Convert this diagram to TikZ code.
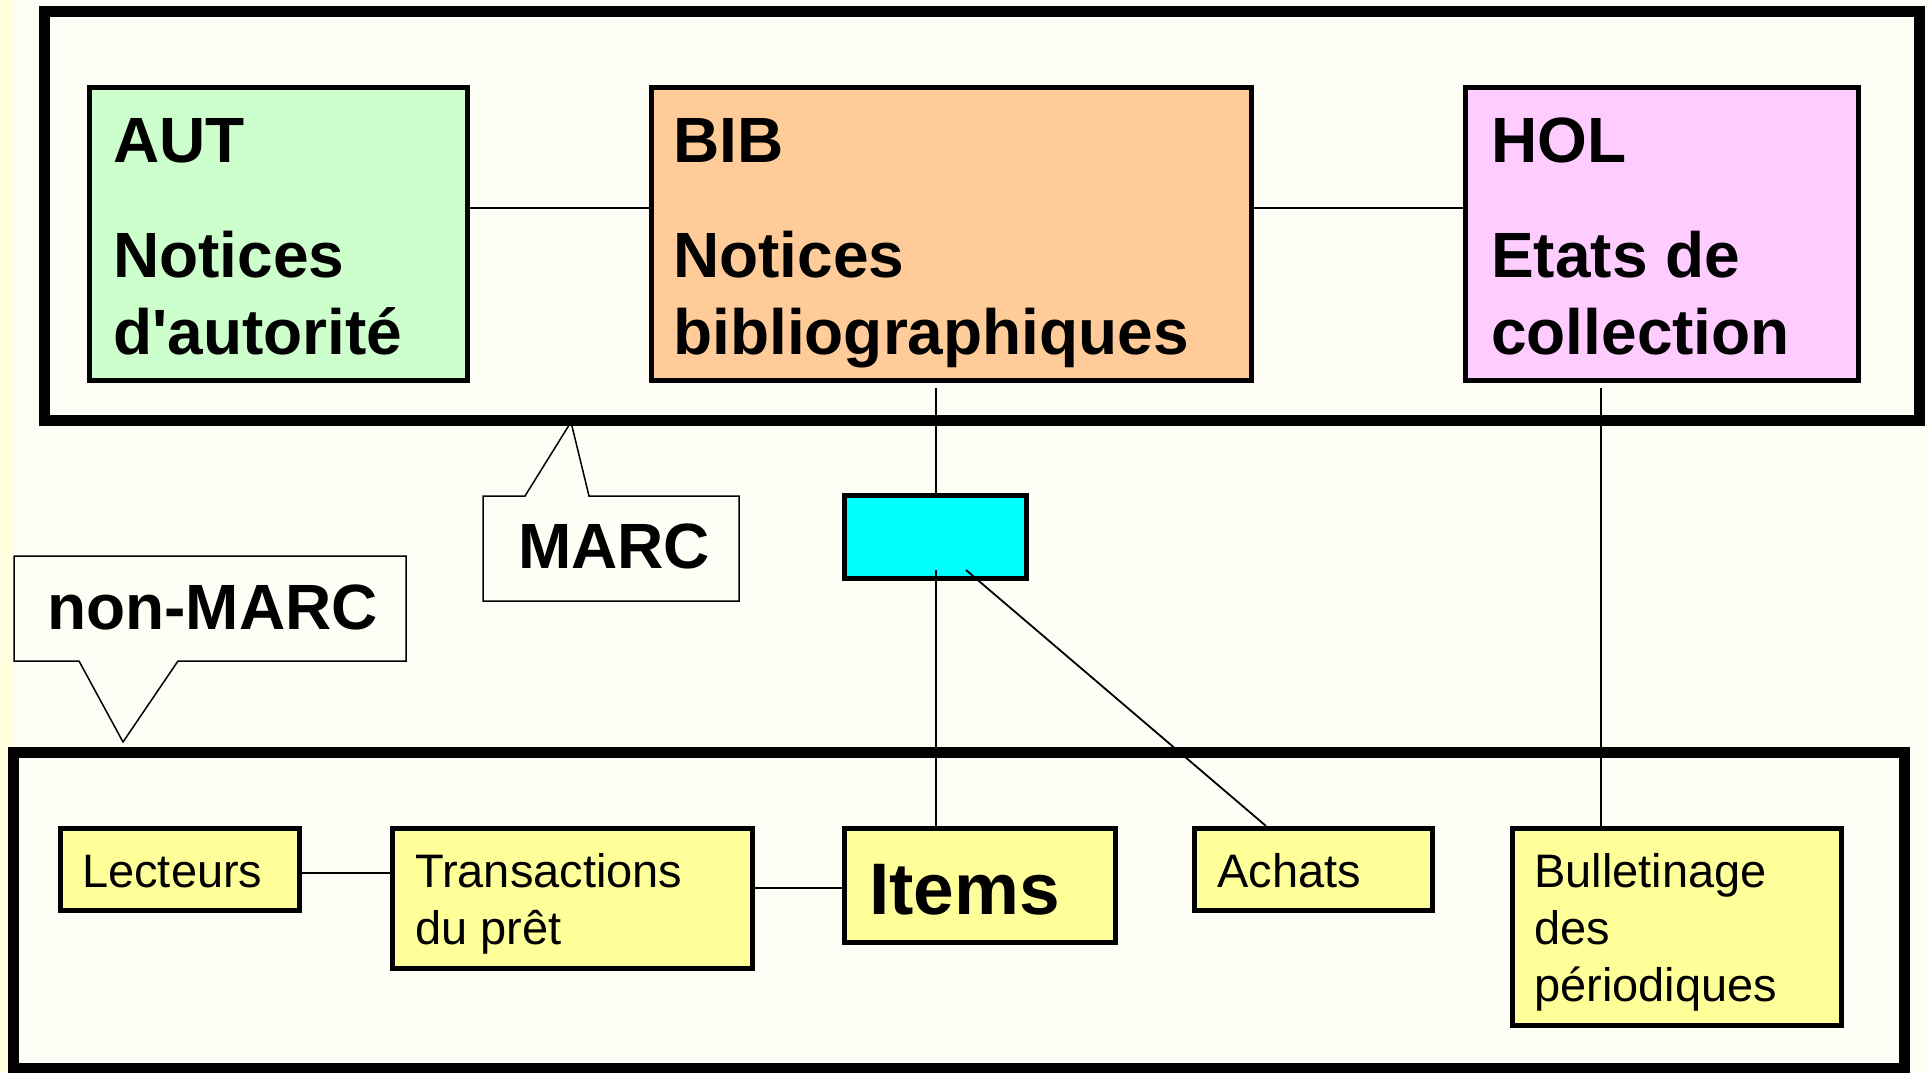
\documentclass[tikz,border=0pt]{standalone}
\usepackage{fontspec}
\setmainfont{Liberation Sans}[Ligatures=TeXOff]
\usetikzlibrary{fit,calc}
\definecolor{bgc}{HTML}{FEFEF6}
\definecolor{stripc}{HTML}{FFFFE0}
\definecolor{autc}{HTML}{CCFFCC}
\definecolor{bibc}{HTML}{FFCC99}
\definecolor{holc}{HTML}{FFCCFF}
\definecolor{itemc}{HTML}{FFFF99}
\definecolor{cyanc}{HTML}{00FFFF}
\begin{document}
\begin{tikzpicture}[x=1pt,y=-1pt,
  framebox/.style={draw=black, line width=11pt},
  recbox/.style={draw=black, line width=5pt, inner sep=0pt},
  link/.style={draw=black, line width=1.8pt},
  callout/.style={draw=black, line width=1.5pt, fill=bgc, line join=miter},
  bigtxt/.style={font=\fontsize{64}{76}\selectfont\bfseries, anchor=base west, inner sep=0pt},
  itemtxt/.style={font=\fontsize{73}{86}\selectfont\bfseries, anchor=base west, inner sep=0pt},
  smalltxt/.style={font=\fontsize{47}{57}\selectfont, anchor=base west, inner sep=0pt}]
% background
\fill[bgc] (0,0) rectangle (1930,1073);
\useasboundingbox (0,0) rectangle (1930,1073);
\fill[stripc] (0,0) rectangle (14,1073);

% callouts
\draw[callout] (483,496) -- (525,496) -- (571,422) -- (589,496) -- (739,496) -- (739,601) -- (483,601) -- cycle;
\draw[callout] (14,556) -- (406,556) -- (406,661) -- (178,661) -- (123,742) -- (79,661) -- (14,661) -- cycle;

% frames
\node[framebox, inner sep=0pt, fit={(44,12) (1919,420)}] (topframe) {};
\node[framebox, inner sep=0pt, fit={(13,752) (1904,1068)}] (botframe) {};

% top boxes
\node[recbox, fill=autc, fit={(89.5,87.5) (467.5,380.5)}] (aut) {};
\node[recbox, fill=bibc, fit={(651,87.5) (1251.5,380.5)}] (bib) {};
\node[recbox, fill=holc, fit={(1465.5,87.5) (1858.5,380.5)}] (hol) {};

% middle cyan box
\node[recbox, fill=cyanc, fit={(844.5,495.5) (1026.5,578.5)}] (cy) {};

% bottom boxes
\node[recbox, fill=itemc, fit={(60.5,828.5) (299.5,910.5)}] (lect) {};
\node[recbox, fill=itemc, fit={(392.5,828.5) (752.5,968.5)}] (trans) {};
\node[recbox, fill=itemc, fit={(844.5,828.5) (1115.5,942.5)}] (items) {};
\node[recbox, fill=itemc, fit={(1194.5,828.5) (1432.5,910.5)}] (achats) {};
\node[recbox, fill=itemc, fit={(1512.5,828.5) (1841.5,1025.5)}] (bull) {};

% connectors
\coordinate (hy) at (0,208);
\draw[link] (aut.east |- hy) -- (bib.west |- hy);
\draw[link] (bib.east |- hy) -- (hol.west |- hy);
\coordinate (bibtap) at (936,388);
\draw[link] (bibtap) -- (bibtap |- cy.north);
\coordinate (holtap) at (1601,388);
\draw[link] (holtap) -- (holtap |- bull.north);
\coordinate (cyv) at (936,570);
\draw[link] (cyv) -- (cyv |- items.north);
\coordinate (cyd) at (966,570);
\coordinate (achtop) at (1266,826);
\draw[link] (cyd) -- (achtop);
\coordinate (ly) at (0,873);
\draw[link] (lect.east |- ly) -- (trans.west |- ly);
\coordinate (ty) at (0,888);
\draw[link] (trans.east |- ty) -- (items.west |- ty);

% texts top
\node[bigtxt] (autA) at (113,162) {AUT};
\node[bigtxt] (autB) at (113,277) {Notices};
\node[bigtxt] (autC) at (113,354) {d'autorité};
\node[bigtxt] (bibA) at (673,162) {BIB};
\node[bigtxt] (bibB) at (673,277) {Notices};
\node[bigtxt] (bibC) at (673,354) {bibliographiques};
\node[bigtxt] (holA) at (1491,162) {HOL};
\node[bigtxt] (holB) at (1491,277) {Etats de};
\node[bigtxt] (holC) at (1491,354) {collection};

% callout texts
\node[bigtxt] (marc) at (518,568) {MARC};
\node[bigtxt] (nonmarc) at (47,629) {non-MARC};

% texts bottom
\node[smalltxt] (lectT) at (82,887) {Lecteurs};
\node[smalltxt] (transA) at (415,887) {Transactions};
\node[smalltxt] (transB) at (415,944) {du prêt};
\node[itemtxt] (itemsT) at (869,914) {Items};
\node[smalltxt] (achT) at (1217,887) {Achats};
\node[smalltxt] (bullA) at (1534,887) {Bulletinage};
\node[smalltxt] (bullB) at (1534,944) {des};
\node[smalltxt] (bullC) at (1534,1001) {périodiques};
\end{tikzpicture}
\end{document}
